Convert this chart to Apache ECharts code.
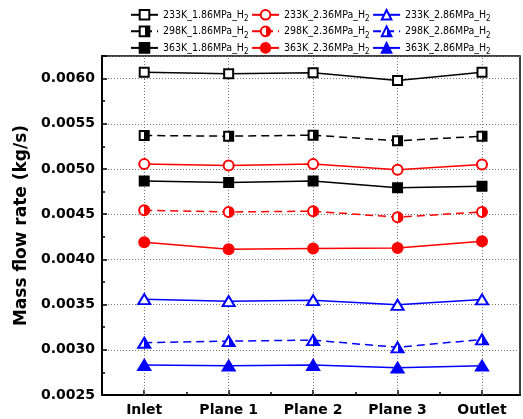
<!DOCTYPE html>
<html><head><meta charset="utf-8">
<script src="https://cdn.jsdelivr.net/npm/echarts@6/dist/echarts.min.js"></script>
<style>html,body{margin:0;padding:0;background:#fff}#c{width:523px;height:419px}</style>
</head><body><div id="c"></div>
<script>
const categories = ['Inlet', 'Plane 1', 'Plane 2', 'Plane 3', 'Outlet'];
const categoryPos = [1, 2, 3, 4, 5];
const minorPos = [0.5, 1.5, 2.5, 3.5, 4.5, 5.5];

const v233_186 = [0.00607, 0.006055, 0.006066, 0.00598, 0.00607];
const v298_186 = [0.005371, 0.005363, 0.005374, 0.005312, 0.005363];
const v363_186 = [0.004866, 0.004852, 0.004866, 0.004793, 0.004808];
const v233_236 = [0.005054, 0.00504, 0.005054, 0.004992, 0.005051];
const v298_236 = [0.004544, 0.004525, 0.004533, 0.004467, 0.004525];
const v363_236 = [0.00419, 0.004112, 0.00412, 0.004127, 0.0042];
const v233_286 = [0.00356, 0.003538, 0.003549, 0.003497, 0.003557];
const v298_286 = [0.003078, 0.003096, 0.003107, 0.003027, 0.003115];
const v363_286 = [0.002832, 0.002824, 0.002832, 0.002802, 0.002824];

const seriesDefs = [
  { name: '233K_1.86MPa_H2', data: v233_186, color: '#000000', fill: 'empty', symbol: 'rect', dash: 'solid' },
  { name: '298K_1.86MPa_H2', data: v298_186, color: '#000000', fill: 'half', symbol: 'rect', dash: 'dashed' },
  { name: '363K_1.86MPa_H2', data: v363_186, color: '#000000', fill: 'full', symbol: 'rect', dash: 'solid' },
  { name: '233K_2.36MPa_H2', data: v233_236, color: '#ff0000', fill: 'empty', symbol: 'circle', dash: 'solid' },
  { name: '298K_2.36MPa_H2', data: v298_236, color: '#ff0000', fill: 'half', symbol: 'circle', dash: 'dashed' },
  { name: '363K_2.36MPa_H2', data: v363_236, color: '#ff0000', fill: 'full', symbol: 'circle', dash: 'solid' },
  { name: '233K_2.86MPa_H2', data: v233_286, color: '#0000ff', fill: 'empty', symbol: 'triangle', dash: 'solid' },
  { name: '298K_2.86MPa_H2', data: v298_286, color: '#0000ff', fill: 'half', symbol: 'triangle', dash: 'dashed' },
  { name: '363K_2.86MPa_H2', data: v363_286, color: '#0000ff', fill: 'full', symbol: 'triangle', dash: 'solid' }
];
const legendOrder = [
  '233K_1.86MPa_H2', '233K_2.36MPa_H2', '233K_2.86MPa_H2',
  '298K_1.86MPa_H2', '298K_2.36MPa_H2', '298K_2.86MPa_H2',
  '363K_1.86MPa_H2', '363K_2.36MPa_H2', '363K_2.86MPa_H2'
];

function fillFor(d) {
  if (d.fill === 'empty') return '#ffffff';
  if (d.fill === 'full') return d.color;
  return { type: 'linear', x: 0, y: 0, x2: 1, y2: 0, colorStops: [
    { offset: 0, color: '#ffffff' }, { offset: 0.5, color: '#ffffff' },
    { offset: 0.5, color: d.color }, { offset: 1, color: d.color }] };
}
function sizeFor(d) {
  if (d.symbol === 'triangle') return [12, 10];
  if (d.symbol === 'circle') return 10;
  return 9;
}

const series = seriesDefs.map(d => ({
  name: d.name,
  type: 'line',
  z: 3,
  data: d.data.map((v, i) => [categoryPos[i], v]),
  symbol: d.symbol,
  symbolSize: sizeFor(d),
  showAllSymbol: true,
  lineStyle: { color: d.color, width: 1.5, type: d.dash === 'dashed' ? [8, 5] : 'solid' },
  itemStyle: { color: fillFor(d), borderColor: d.color, borderWidth: 2, opacity: 1 },
  emphasis: { disabled: true },
  animation: false
}));

series.push({
  name: 'grid-x',
  type: 'line',
  z: 1,
  data: [],
  silent: true,
  markLine: {
    z: 1,
    silent: true,
    symbol: 'none',
    animation: false,
    label: { show: false },
    lineStyle: { color: '#777', width: 1, type: [1, 2] },
    emphasis: { disabled: true },
    data: categoryPos.map(x => ({ xAxis: x }))
  }
});

const chart = echarts.init(document.getElementById('c'), null, { renderer: 'canvas' });
chart.setOption({
  backgroundColor: '#ffffff',
  animation: false,
  legend: {
    data: legendOrder,
    left: 130, top: 9, width: 380,
    itemWidth: 27, itemHeight: 12, itemGap: 2.5,
    padding: 0,
    formatter: n => '{n|' + n.slice(0, -1) + '}{s|' + n.slice(-1) + '}',
    textStyle: {
      color: '#000',
      rich: {
        n: { fontFamily: 'DejaVu Sans Condensed', fontSize: 10.5, lineHeight: 16.5, color: '#000' },
        s: { fontFamily: 'DejaVu Sans Condensed', fontSize: 8, lineHeight: 10, verticalAlign: 'bottom', color: '#000' }
      }
    }
  },
  grid: { left: 102, right: 3, top: 56, bottom: 24, show: true, borderColor: '#000', borderWidth: 1.5, backgroundColor: 'transparent' },
  xAxis: [{
    type: 'value', min: 0.5, max: 5.45,
    axisLine: { show: true, lineStyle: { color: '#000', width: 2 } },
    axisTick: { show: true, inside: true, length: 5, lineStyle: { color: '#000', width: 1.5 }, customValues: categoryPos },
    axisLabel: { customValues: categoryPos, formatter: v => categories[Math.round(v) - 1], color: '#000', fontFamily: 'DejaVu Sans', fontWeight: 'bold', fontSize: 14, margin: 8 },
    splitLine: { show: false }
  }, {
    type: 'value', min: 0.5, max: 5.45, position: 'bottom', gridIndex: 0,
    axisLine: { show: false },
    axisTick: { show: true, inside: true, length: 3, lineStyle: { color: '#000', width: 1.5 }, customValues: minorPos },
    axisLabel: { show: false },
    splitLine: { show: false }
  }],
  yAxis: {
    type: 'value', min: 0.0025, max: 0.00625, interval: 0.0005,
    name: 'Mass flow rate (kg/s)', nameLocation: 'middle', nameGap: 60,
    nameTextStyle: { color: '#000', fontFamily: 'DejaVu Sans', fontWeight: 'bold', fontSize: 17 },
    axisLine: { show: true, lineStyle: { color: '#000', width: 2 } },
    axisTick: { show: true, inside: true, length: 5, lineStyle: { color: '#000', width: 1.5 } },
    minorTick: { show: true, splitNumber: 2, length: 3, lineStyle: { color: '#000', width: 1.5 } },
    axisLabel: { showMaxLabel: false, formatter: v => v.toFixed(4), color: '#000', fontFamily: 'DejaVu Sans', fontWeight: 'bold', fontSize: 14, margin: 7 },
    splitLine: { show: true, lineStyle: { color: '#777', width: 1, type: [1, 2] } }
  },
  series: series
});
</script></body></html>
